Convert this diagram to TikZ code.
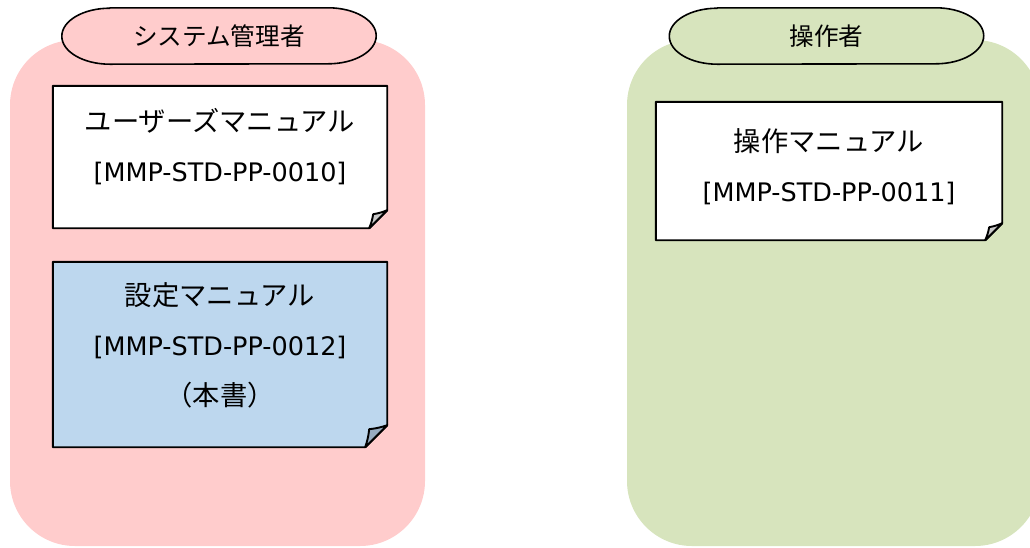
\documentclass[tikz,border=0pt]{standalone}
\usepackage{fontspec}
\setmainfont{DejaVu Sans}
\newfontfamily\jpfont[Scale=1.07]{Noto Sans CJK JP}

\definecolor{adminbg}{HTML}{FFCCCC}
\definecolor{userbg}{HTML}{D7E4BD}
\definecolor{notebl}{HTML}{BDD7EE}
\definecolor{foldgr}{HTML}{C8C8C8}
\definecolor{foldbl}{HTML}{97ABC0}

\tikzset{
  panel/.style={rectangle, rounded corners=65pt, inner sep=0pt},
  rolebox/.style={inner sep=0pt, minimum width=314pt, minimum height=56pt, font=\fontsize{23}{28}\selectfont\jpfont},
  notebox/.style={rectangle, inner sep=0pt, minimum width=334pt},
  notetext/.style={align=center, inner sep=0pt, font=\fontsize{25.5}{50}\selectfont},
  noteline/.style={draw=black, line width=1.9pt, line join=round},
}

% outline of a note with its folded corner: name, cut, fill, fold
\newcommand{\foldnote}[4]{%
  \draw[noteline, fill=#3] (#1.north west) -- (#1.north east) -- ([yshift=#2]#1.south east)
    -- ([xshift=-#2]#1.south east) -- (#1.south west) -- cycle;
  \draw[noteline, fill=#4] ([xshift=-#2]#1.south east) to[bend right=6] ([xshift=-#2+4pt, yshift=#2-4pt]#1.south east)
    to[bend right=6] ([yshift=#2]#1.south east) -- cycle;
}

% stadium shaped role label
\newcommand{\rolelabel}[2]{%
  \draw[noteline, line width=1.6pt, fill=#2] ([xshift=48pt]#1.north west) -- ([xshift=-48pt]#1.north east)
    arc[start angle=90, end angle=-90, x radius=48pt, y radius=28pt]
    -- ([xshift=48pt]#1.south west)
    arc[start angle=-90, end angle=-270, x radius=48pt, y radius=28pt] -- cycle;
}

\begin{document}
\begin{tikzpicture}[x=1pt, y=-1pt]
  \useasboundingbox (0,0) rectangle (1030,547);

  % panels
  \node[panel, fill=adminbg, minimum width=415pt, minimum height=506pt] (adminpanel) at (217.5,293) {};
  \node[panel, fill=userbg, minimum width=413pt, minimum height=506pt] (userpanel) at (833.5,293) {};

  % role labels
  \node[rolebox] (adminrole) at (219,36) {};
  \rolelabel{adminrole}{adminbg}
  \node[rolebox] at (adminrole) {システム管理者};
  \node[rolebox] (userrole) at (826.5,36) {};
  \rolelabel{userrole}{userbg}
  \node[rolebox] at (userrole) {操作者};

  % manuals
  \node[notebox, minimum height=142pt] (usermanual) at (220,157) {};
  \foldnote{usermanual}{18pt}{white}{foldgr}
  \node[notetext] (usertxt) at (220,146.5) {{\jpfont ユーザーズマニュアル}\\{[MMP-STD-PP-0010]}};

  \node[notebox, minimum height=185pt] (setmanual) at (220,354.5) {};
  \foldnote{setmanual}{22pt}{notebl}{foldbl}
  \node[notetext] (settxt) at (220,345) {{\jpfont 設定マニュアル}\\{[MMP-STD-PP-0012]}\\{\jpfont （本書）}};

  \node[notebox, minimum width=346pt, minimum height=138pt] (opmanual) at (829,171) {};
  \foldnote{opmanual}{17pt}{white}{foldgr}
  \node[notetext] (optxt) at (829,166.5) {{\jpfont 操作マニュアル}\\{[MMP-STD-PP-0011]}};
\end{tikzpicture}
\end{document}
